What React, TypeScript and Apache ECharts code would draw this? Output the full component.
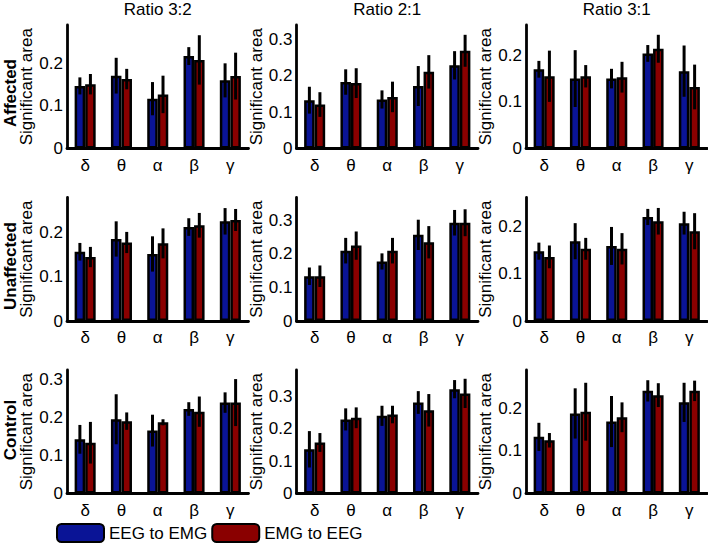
import React, { useEffect, useRef } from 'react';
import * as echarts from 'echarts';

const categories = ['δ', 'θ', 'α', 'β', 'γ'];
const columnTitles = ['Ratio 3:2', 'Ratio 2:1', 'Ratio 3:1'];
const rowTitles = ['Affected', 'Unaffected', 'Control'];
const seriesNames = ['EEG to EMG', 'EMG to EEG'];
const yAxisName = 'Significant area';

// Affected
const affected32Eeg = [0.147, 0.171, 0.117, 0.217, 0.160];
const affected32EegErr = [0.020, 0.042, 0.039, 0.021, 0.040];
const affected32Emg = [0.151, 0.163, 0.127, 0.208, 0.170];
const affected32EmgErr = [0.024, 0.024, 0.044, 0.058, 0.055];

const affected21Eeg = [0.133, 0.183, 0.135, 0.172, 0.229];
const affected21EegErr = [0.037, 0.035, 0.025, 0.055, 0.039];
const affected21Emg = [0.121, 0.180, 0.142, 0.211, 0.269];
const affected21EmgErr = [0.034, 0.041, 0.042, 0.046, 0.044];

const affected31Eeg = [0.170, 0.150, 0.150, 0.204, 0.166];
const affected31EegErr = [0.018, 0.061, 0.021, 0.018, 0.055];
const affected31Emg = [0.155, 0.155, 0.153, 0.214, 0.132];
const affected31EmgErr = [0.055, 0.024, 0.033, 0.030, 0.048];

// Unaffected
const unaffected32Eeg = [0.157, 0.186, 0.152, 0.213, 0.226];
const unaffected32EegErr = [0.020, 0.040, 0.040, 0.020, 0.030];
const unaffected32Emg = [0.145, 0.178, 0.176, 0.217, 0.229];
const unaffected32EmgErr = [0.023, 0.024, 0.034, 0.028, 0.025];

const unaffected21Eeg = [0.133, 0.209, 0.177, 0.256, 0.292];
const unaffected21EegErr = [0.026, 0.038, 0.024, 0.045, 0.038];
const unaffected21Emg = [0.133, 0.224, 0.209, 0.234, 0.292];
const unaffected21EmgErr = [0.032, 0.042, 0.038, 0.048, 0.040];

const unaffected31Eeg = [0.147, 0.168, 0.158, 0.219, 0.206];
const unaffected31EegErr = [0.018, 0.038, 0.040, 0.017, 0.024];
const unaffected31Emg = [0.135, 0.152, 0.152, 0.210, 0.189];
const unaffected31EmgErr = [0.024, 0.023, 0.033, 0.028, 0.038];

// Control
const control32Eeg = [0.143, 0.196, 0.166, 0.223, 0.240];
const control32EegErr = [0.038, 0.066, 0.042, 0.018, 0.027];
const control32Emg = [0.134, 0.191, 0.188, 0.216, 0.240];
const control32EmgErr = [0.055, 0.023, 0.008, 0.040, 0.062];

const control21Eeg = [0.136, 0.228, 0.239, 0.280, 0.321];
const control21EegErr = [0.056, 0.034, 0.031, 0.035, 0.028];
const control21Emg = [0.157, 0.233, 0.243, 0.256, 0.308];
const control21EmgErr = [0.029, 0.032, 0.027, 0.050, 0.045];

const control31Eeg = [0.133, 0.188, 0.169, 0.241, 0.214];
const control31EegErr = [0.033, 0.059, 0.060, 0.025, 0.046];
const control31Emg = [0.125, 0.192, 0.179, 0.231, 0.241];
const control31EmgErr = [0.017, 0.068, 0.035, 0.028, 0.024];

// y-axis upper limits per panel (row-major)
const yMaxValues = [0.29, 0.34, 0.265, 0.28, 0.367, 0.26, 0.326, 0.38, 0.29];

const FONT = "'Liberation Sans', Arial, sans-serif";
const FS = 17;
const BLUE = '#0a1496';
const RED = '#8a0000';

export default function App() {
  const ref = useRef<HTMLDivElement>(null);

  useEffect(() => {
    if (!ref.current) return;
    const chart = echarts.init(ref.current, undefined, { renderer: 'svg' });

    const panels = [
      [affected32Eeg, affected32EegErr, affected32Emg, affected32EmgErr],
      [affected21Eeg, affected21EegErr, affected21Emg, affected21EmgErr],
      [affected31Eeg, affected31EegErr, affected31Emg, affected31EmgErr],
      [unaffected32Eeg, unaffected32EegErr, unaffected32Emg, unaffected32EmgErr],
      [unaffected21Eeg, unaffected21EegErr, unaffected21Emg, unaffected21EmgErr],
      [unaffected31Eeg, unaffected31EegErr, unaffected31Emg, unaffected31EmgErr],
      [control32Eeg, control32EegErr, control32Emg, control32EmgErr],
      [control21Eeg, control21EegErr, control21Emg, control21EmgErr],
      [control31Eeg, control31EegErr, control31Emg, control31EmgErr],
    ];

    const colLeft = [67, 296.5, 526];
    const rowTop = [25, 197.5, 370];
    const gw = 181.5;
    const gh = 123.5;
    const barFrac = 0.29;

    const grid: any[] = [];
    const xAxis: any[] = [];
    const yAxis: any[] = [];
    const series: any[] = [];

    const axisLine = { show: true, lineStyle: { color: '#000', width: 2.8 } };

    panels.forEach((p, i) => {
      const r = Math.floor(i / 3);
      const c = i % 3;
      grid.push({ left: colLeft[c], top: rowTop[r], width: gw, height: gh });
      xAxis.push({
        type: 'category',
        gridIndex: i,
        data: categories,
        axisLine,
        axisTick: { show: false },
        axisLabel: { fontSize: FS, color: '#000', margin: 8, fontFamily: FONT },
      });
      yAxis.push({
        type: 'value',
        gridIndex: i,
        min: 0,
        max: yMaxValues[i],
        interval: 0.1,
        splitLine: { show: false },
        axisLine,
        axisTick: { show: false },
        axisLabel: {
          fontSize: FS,
          color: '#000',
          margin: 4,
          fontFamily: FONT,
          showMaxLabel: false,
          formatter: (v: number) => (v === 0 ? '0' : v.toFixed(1)),
        },
        name: yAxisName,
        nameLocation: 'middle',
        nameGap: 30,
        nameTextStyle: { fontSize: FS, color: '#000', fontFamily: FONT },
      });

      const pairs = [
        { name: seriesNames[0], vals: p[0], errs: p[1], color: BLUE, sign: -1 },
        { name: seriesNames[1], vals: p[2], errs: p[3], color: RED, sign: 1 },
      ];
      pairs.forEach((s) => {
        series.push({
          type: 'bar',
          name: s.name,
          xAxisIndex: i,
          yAxisIndex: i,
          data: s.vals,
          barWidth: barFrac * 100 + '%',
          barGap: '0%',
          itemStyle: { color: s.color, borderColor: '#000', borderWidth: 2.5 },
          silent: true,
        });
      });
      pairs.forEach((s) => {
        series.push({
          type: 'custom',
          name: s.name + ' error',
          xAxisIndex: i,
          yAxisIndex: i,
          z: 10,
          silent: true,
          encode: { x: 0, y: [1, 2] },
          data: s.vals.map((v, k) => [k, v - s.errs[k], v + s.errs[k]]),
          renderItem: (params: any, api: any) => {
            const idx = api.value(0);
            const lo = api.coord([idx, api.value(1)]);
            const hi = api.coord([idx, api.value(2)]);
            const band = api.size([1, 0])[0];
            const off = (s.sign * band * barFrac) / 2;
            return {
              type: 'line',
              shape: { x1: lo[0] + off, y1: lo[1], x2: hi[0] + off, y2: hi[1] },
              style: { stroke: '#000', lineWidth: 3 },
            };
          },
        });
      });
    });

    const graphic: any[] = [];
    columnTitles.forEach((t, c) => {
      graphic.push({
        type: 'text',
        x: colLeft[c] + gw / 2,
        y: 9.5,
        style: {
          text: t,
          fontSize: FS,
          fontFamily: FONT,
          fill: '#000',
          align: 'center',
          verticalAlign: 'middle',
        },
      });
    });
    const rowLabelY = [93, 266, 430];
    rowTitles.forEach((t, r) => {
      graphic.push({
        type: 'text',
        x: 10,
        y: rowLabelY[r],
        rotation: Math.PI / 2,
        style: {
          text: t,
          fontSize: FS,
          fontWeight: 'bold',
          fontFamily: FONT,
          fill: '#000',
          align: 'center',
          verticalAlign: 'middle',
        },
      });
    });

    chart.setOption({
      animation: false,
      backgroundColor: '#fff',
      textStyle: { fontFamily: FONT },
      grid,
      xAxis,
      yAxis,
      series,
      graphic,
      legend: {
        data: seriesNames,
        left: 56,
        top: 523,
        padding: 0,
        itemWidth: 47,
        itemHeight: 18,
        itemGap: 4,
        icon: 'roundRect',
        selectedMode: false,
        textStyle: { fontSize: FS, color: '#000', fontFamily: FONT },
      },
    });

    return () => chart.dispose();
  }, []);

  return (
    <div
      ref={ref}
      style={{ position: 'absolute', left: 0, top: 0, width: 708, height: 543 }}
    />
  );
}
